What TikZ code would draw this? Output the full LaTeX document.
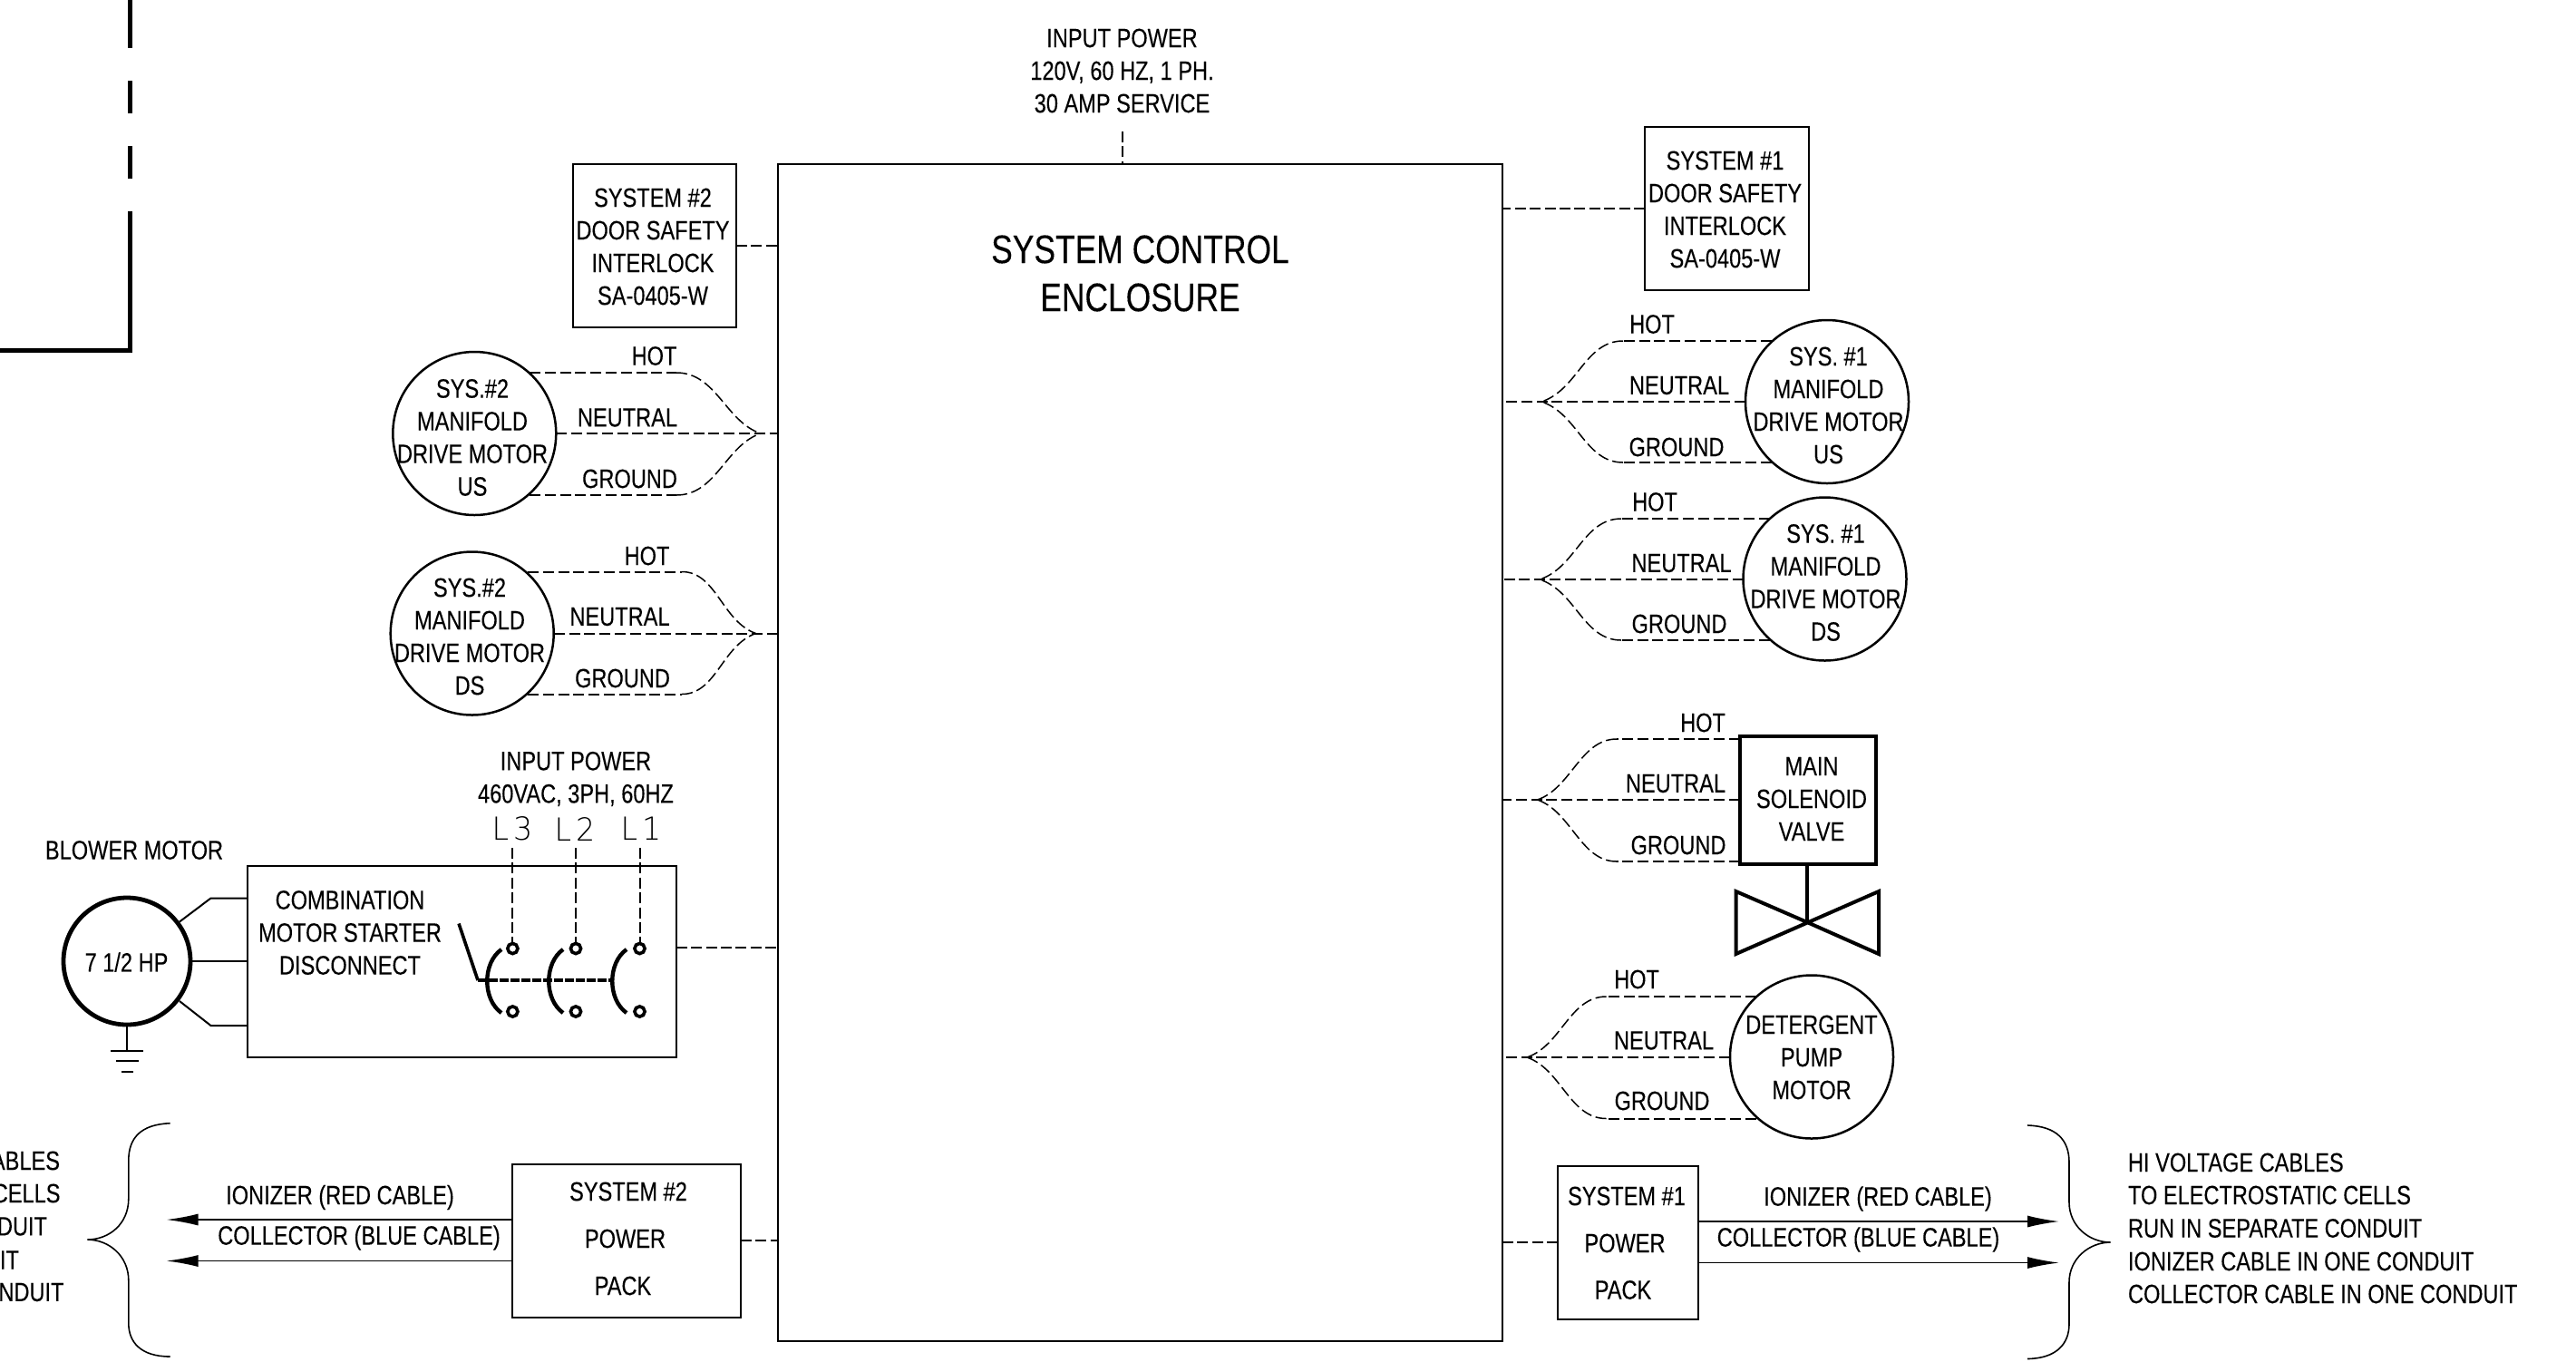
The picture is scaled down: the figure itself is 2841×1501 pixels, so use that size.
\documentclass[tikz,border=0pt]{standalone}
\usepackage{fontspec}
\setmainfont[FakeStretch=0.805,FakeBold=0.15]{Liberation Sans}
\newfontfamily\lfont[LetterSpace=14,FakeStretch=0.95]{DejaVu Sans ExtraLight}
\usetikzlibrary{arrows.meta}
\tikzset{
  txt/.style={inner sep=0pt,outer sep=0pt,align=center,font=\fontsize{14.65}{18}\selectfont},
  txtl/.style={txt,anchor=west,align=left},
  txtr/.style={txt,anchor=east,align=right},
  big/.style={inner sep=0pt,align=center,font=\fontsize{22}{26.5}\selectfont},
  lname/.style={inner sep=0pt,font=\lfont\fontsize{17.5}{18}\selectfont},
  box/.style={draw,rectangle,line width=1pt,inner sep=0pt,outer sep=0pt},
  heavybox/.style={box,line width=2pt},
  motor/.style={draw,circle,line width=1.25pt,inner sep=0pt,outer sep=0pt,minimum size=90pt},
  blower/.style={motor,line width=2.4pt,minimum size=70pt},
  term/.style={draw,circle,line width=1.8pt,inner sep=0pt,outer sep=0pt,minimum size=5.6pt},
  wire/.style={line width=1pt,dash pattern=on 6pt off 2.4pt},
  thinwire/.style={line width=.75pt,dash pattern=on 6pt off 2.4pt},
  feed/.style={line width=1pt,dash pattern=on 6pt off 2.2pt},
  solid1/.style={line width=1pt},
  cable/.style={line width=.9pt,-{Latex[length=17.5pt,width=6.5pt]}},
  brace/.style={line width=.8pt},
  frameline/.style={line width=2.5pt},
  blade/.style={line width=2.2pt},
  valve/.style={line width=2pt,line join=miter}
}
\newcommand{\rectn}[6][box]{\node[#1,minimum width={(#5-#3)*0.5pt},minimum height={(#6-#4)*0.5pt}] (#2) at ({(#3+#5)/2},{(#4+#6)/2}) {};}
\begin{document}
\begin{tikzpicture}[x=0.5pt,y=-0.5pt]
\useasboundingbox (0,0) rectangle (2841,1501);
% top-left frame
\coordinate (fa1) at (143.5,0); \coordinate (fa2) at (143.5,53);
\coordinate (fb1) at (143.5,89); \coordinate (fb2) at (143.5,125);
\coordinate (fc1) at (143.5,161); \coordinate (fc2) at (143.5,197);
\coordinate (fd1) at (143.5,233); \coordinate (fd2) at (143.5,386); \coordinate (fd3) at (0,386);
\draw[frameline] (fa1) -- (fa2);
\draw[frameline] (fb1) -- (fb2);
\draw[frameline] (fc1) -- (fc2);
\draw[frameline,line join=miter] (fd1) -- (fd2) -- (fd3);
% enclosure
\rectn{enc}{858}{181}{1657}{1479}
\node[big] (enclabel) at (1257.5,301.5) {SYSTEM CONTROL\\ENCLOSURE};
% top power
\node[txt] (topin) at (1237.5,78) {INPUT POWER\\120V, 60 HZ, 1 PH.\\30 AMP SERVICE};
\coordinate (topa) at (1237.5,145);
\draw[feed] (topa) -- (topa |- enc.north);
% door interlocks
\rectn{d2}{632}{180.5}{812}{361}
\node[txt] (d2t) at (720,272) {SYSTEM \#2\\DOOR SAFETY\\INTERLOCK\\SA-0405-W};
\draw[feed] (d2.east) -- (d2.east -| enc.west);
\rectn{d1}{1814}{139.5}{1995}{320}
\node[txt] (d1t) at (1902.5,231) {SYSTEM \#1\\DOOR SAFETY\\INTERLOCK\\SA-0405-W};
\draw[feed] (d1.west) -- (d1.west -| enc.east);
% left motors
\node[motor] (m2u) at (523.3,478) {};
\node[txt] (m2ut) at (521,482.5) {SYS.\#2\\MANIFOLD\\DRIVE MOTOR\\US};
\coordinate (m2uh) at (584,411); \coordinate (m2ub) at (746,411);
\coordinate (m2uc) at (790,411); \coordinate (m2ud) at (800,465);
\coordinate (m2uj) at (839,478);
\coordinate (m2ug) at (584,546); \coordinate (m2uf) at (746,546);
\coordinate (m2ue) at (790,546); \coordinate (m2ui) at (800,491);
\draw[wire] (m2uh) -- (m2ub);
\draw[thinwire] (m2ub) .. controls (m2uc) and (m2ud) .. (m2uj);
\draw[wire] (m2ug) -- (m2uf);
\draw[thinwire] (m2uf) .. controls (m2ue) and (m2ui) .. (m2uj);
\draw[wire] (m2u.east) -- (m2u.east -| enc.west);
\node[txt] (m2uH) at (721.5,392.5) {HOT};
\node[txt] (m2uN) at (692,460.5) {NEUTRAL};
\node[txt] (m2uG) at (694.5,528) {GROUND};
\node[motor] (m2d) at (520.7,698.5) {};
\node[txt] (m2dt) at (518,702) {SYS.\#2\\MANIFOLD\\DRIVE MOTOR\\DS};
\coordinate (m2dh) at (582,630.5); \coordinate (m2db) at (752,630.5);
\coordinate (m2dc) at (790,630.5); \coordinate (m2dd) at (796,685);
\coordinate (m2dj) at (833.5,698.5);
\coordinate (m2dg) at (582,765.5); \coordinate (m2df) at (752,765.5);
\coordinate (m2de) at (790,765.5); \coordinate (m2di) at (796,712);
\draw[wire] (m2dh) -- (m2db);
\draw[thinwire] (m2db) .. controls (m2dc) and (m2dd) .. (m2dj);
\draw[wire] (m2dg) -- (m2df);
\draw[thinwire] (m2df) .. controls (m2de) and (m2di) .. (m2dj);
\draw[wire] (m2d.east) -- (m2d.east -| enc.west);
\node[txt] (m2dH) at (713.5,613) {HOT};
\node[txt] (m2dN) at (683.5,680) {NEUTRAL};
\node[txt] (m2dG) at (686.5,748) {GROUND};
% right motors
\node[motor] (m1u) at (2015,443) {};
\node[txt] (m1ut) at (2016.5,447) {SYS. \#1\\MANIFOLD\\DRIVE MOTOR\\US};
\coordinate (m1uh) at (1954,376); \coordinate (m1ub) at (1790,376);
\coordinate (m1uc) at (1748,376); \coordinate (m1ud) at (1740,430);
\coordinate (m1uj) at (1700,443);
\coordinate (m1ug) at (1954,510); \coordinate (m1uf) at (1790,510);
\coordinate (m1ue) at (1748,510); \coordinate (m1ui) at (1740,456);
\draw[wire] (m1uh) -- (m1ub);
\draw[thinwire] (m1ub) .. controls (m1uc) and (m1ud) .. (m1uj);
\draw[wire] (m1ug) -- (m1uf);
\draw[thinwire] (m1uf) .. controls (m1ue) and (m1ui) .. (m1uj);
\draw[wire] (m1u.west) -- (m1u.west -| enc.east);
\node[txt] (m1uH) at (1822,357.5) {HOT};
\node[txt] (m1uN) at (1852,425) {NEUTRAL};
\node[txt] (m1uG) at (1849,493) {GROUND};
\node[motor] (m1d) at (2012.5,638.5) {};
\node[txt] (m1dt) at (2013.5,642.5) {SYS. \#1\\MANIFOLD\\DRIVE MOTOR\\DS};
\coordinate (m1dh) at (1952,572); \coordinate (m1db) at (1788,572);
\coordinate (m1dc) at (1746,572); \coordinate (m1dd) at (1738,626);
\coordinate (m1dj) at (1698,639);
\coordinate (m1dg) at (1952,706); \coordinate (m1df) at (1788,706);
\coordinate (m1de) at (1746,706); \coordinate (m1di) at (1738,652);
\draw[wire] (m1dh) -- (m1db);
\draw[thinwire] (m1db) .. controls (m1dc) and (m1dd) .. (m1dj);
\draw[wire] (m1dg) -- (m1df);
\draw[thinwire] (m1df) .. controls (m1de) and (m1di) .. (m1dj);
\draw[wire] (m1d.west) -- (m1d.west -| enc.east);
\node[txt] (m1dH) at (1825,553.5) {HOT};
\node[txt] (m1dN) at (1854.5,621) {NEUTRAL};
\node[txt] (m1dG) at (1852,688) {GROUND};
% solenoid
\rectn[heavybox]{sol}{1919}{811.5}{2069}{953}
\node[txt] (solt) at (1998,881) {MAIN\\SOLENOID\\VALVE};
\coordinate (sh) at (1919,815); \coordinate (sb) at (1783,815);
\coordinate (sc) at (1743,815); \coordinate (sd) at (1733,869);
\coordinate (sj) at (1695.5,882);
\coordinate (sg) at (1919,950); \coordinate (sf) at (1783,950);
\coordinate (se) at (1743,950); \coordinate (si) at (1733,895);
\draw[wire] (sh) -- (sb);
\draw[thinwire] (sb) .. controls (sc) and (sd) .. (sj);
\draw[wire] (sg) -- (sf);
\draw[thinwire] (sf) .. controls (se) and (si) .. (sj);
\draw[wire] (sol.west) -- (sol.west -| enc.east);
\node[txt] (solH) at (1878,797) {HOT};
\node[txt] (solN) at (1848,864) {NEUTRAL};
\node[txt] (solG) at (1851,932) {GROUND};
% valve symbol
\coordinate (vc) at (1993,1017);
\coordinate (vtl) at (1914.5,983); \coordinate (vbl) at (1914.5,1052);
\coordinate (vtr) at (2072,983); \coordinate (vbr) at (2072,1052);
\draw[valve] (vc) -- (vtl) -- (vbl) -- (vtr) -- (vbr) -- cycle;
\draw[valve] (vc |- sol.south) -- (vc);
% detergent
\node[motor] (dp) at (1998,1165.5) {};
\node[txt] (dpt) at (1998,1166) {DETERGENT\\PUMP\\MOTOR};
\coordinate (ph) at (1937,1099); \coordinate (pb) at (1771.5,1099);
\coordinate (pc) at (1731,1099); \coordinate (pd) at (1722,1153);
\coordinate (pj) at (1684,1166);
\coordinate (pg) at (1937,1233.5); \coordinate (pf) at (1771.5,1233.5);
\coordinate (pe) at (1731,1233.5); \coordinate (pi) at (1722,1179);
\draw[wire] (ph) -- (pb);
\draw[thinwire] (pb) .. controls (pc) and (pd) .. (pj);
\draw[wire] (pg) -- (pf);
\draw[thinwire] (pf) .. controls (pe) and (pi) .. (pj);
\draw[wire] (dp.west) -- (dp.west -| enc.east);
\node[txt] (dpH) at (1805,1080) {HOT};
\node[txt] (dpN) at (1835,1147.5) {NEUTRAL};
\node[txt] (dpG) at (1833,1214) {GROUND};
% combination starter
\rectn{cs}{272.7}{954.7}{745.7}{1166}
\node[txt] (cst) at (386,1028.5) {COMBINATION\\MOTOR STARTER\\DISCONNECT};
\coordinate (csout) at (745.7,1044.5);
\draw[feed] (csout) -- (csout -| enc.west);
\node[txt] (ip) at (635,859) {INPUT POWER\\460VAC, 3PH, 60HZ};
\node[lname] (L3) at (565,914) {L3};
\node[lname] (L2) at (634,914) {L2};
\node[lname] (L1) at (707,914) {L1};
\node[term] (t3) at (565.4,1046) {};
\node[term] (t2) at (635,1046) {};
\node[term] (t1) at (705.5,1046) {};
\node[term] (b3) at (565.4,1115.5) {};
\node[term] (b2) at (635,1115.5) {};
\node[term] (b1) at (705.5,1115.5) {};
\coordinate (l3s) at (565.4,935);
\coordinate (l2s) at (635,935);
\coordinate (l1s) at (705.5,935);
\draw[feed] (l3s) -- (t3.north);
\draw[feed] (l2s) -- (t2.north);
\draw[feed] (l1s) -- (t1.north);
\coordinate (a3s) at (553,1047); \coordinate (a3e) at (553,1117);
\coordinate (a3c) at (532,1062); \coordinate (a3d) at (532,1102);
\coordinate (a2s) at (621,1047); \coordinate (a2e) at (621,1117);
\coordinate (a2c) at (600,1062); \coordinate (a2d) at (600,1102);
\coordinate (a1s) at (691,1047); \coordinate (a1e) at (691,1117);
\coordinate (a1c) at (670,1062); \coordinate (a1d) at (670,1102);
\draw[blade] (a3s) .. controls (a3c) and (a3d) .. (a3e);
\draw[blade] (a2s) .. controls (a2c) and (a2d) .. (a2e);
\draw[blade] (a1s) .. controls (a1c) and (a1d) .. (a1e);
\coordinate (hs) at (506,1018.5); \coordinate (hc) at (527,1081); \coordinate (he) at (677,1081);
\draw[line width=1.8pt] (hs) -- (hc);
\draw[line width=1.9pt,dash pattern=on 5pt off 1pt] (hc) -- (he);
% blower
\node[txt] (blt) at (148,937.5) {BLOWER MOTOR};
\node[blower] (bm) at (140,1060) {};
\node[txt] (bmt) at (139.5,1061) {7 1/2 HP};
\coordinate (la1) at (198,1016.5); \coordinate (la2) at (232.5,990.5); \coordinate (la3) at (272.7,990.5);
\coordinate (lc1) at (198,1104); \coordinate (lc2) at (232.5,1131); \coordinate (lc3) at (272.7,1131);
\draw[solid1] (la1) -- (la2) -- (la3);
\draw[solid1] (bm.east) -- (bm.east -| cs.west);
\draw[solid1] (lc1) -- (lc2) -- (lc3);
\coordinate (g0) at (140,1159);
\draw[solid1] (bm.south) -- (g0);
\coordinate (g1a) at (122,1159); \coordinate (g1b) at (158,1159);
\coordinate (g2a) at (127.5,1170); \coordinate (g2b) at (153,1170);
\coordinate (g3a) at (134,1182); \coordinate (g3b) at (147,1182);
\draw[solid1] (g1a) -- (g1b);
\draw[solid1] (g2a) -- (g2b);
\draw[solid1] (g3a) -- (g3b);
% power pack 2
\rectn{pp2}{565}{1283.5}{817}{1452.5}
\node[txt] (pp2a) at (693,1314) {SYSTEM \#2};
\node[txt] (pp2b) at (689.5,1366) {POWER};
\node[txt] (pp2c) at (687,1418) {PACK};
\draw[feed] (pp2.east) -- (pp2.east -| enc.west);
\coordinate (ion2) at (565,1345); \coordinate (ion2t) at (183.5,1345);
\coordinate (col2) at (565,1390.5); \coordinate (col2t) at (183.5,1390.5);
\draw[cable] (ion2) -- (ion2t);
\draw[cable] (col2) -- (col2t);
\node[txt] (ion2l) at (375,1320.5) {IONIZER (RED CABLE)};
\node[txt] (col2l) at (396,1365) {COLLECTOR (BLUE CABLE)};
% power pack 1
\rectn{pp1}{1718}{1286}{1872.5}{1454.5}
\node[txt] (pp1a) at (1794,1319) {SYSTEM \#1};
\node[txt] (pp1b) at (1792,1371) {POWER};
\node[txt] (pp1c) at (1790,1422.5) {PACK};
\draw[feed] (pp1.west) -- (pp1.west -| enc.east);
\coordinate (ion1) at (1872.5,1347); \coordinate (ion1t) at (2271,1347);
\coordinate (col1) at (1872.5,1392.5); \coordinate (col1t) at (2271,1392.5);
\draw[cable] (ion1) -- (ion1t);
\draw[cable] (col1) -- (col1t);
\node[txt] (ion1l) at (2071,1322) {IONIZER (RED CABLE)};
\node[txt] (col1l) at (2049.5,1367) {COLLECTOR (BLUE CABLE)};
% braces
\draw[brace] (187.7,1238.7) .. controls (155,1240) and (141.8,1255) .. (141.8,1280)
  -- (141.8,1322) .. controls (141.8,1350) and (120,1367) .. (96.4,1367)
  .. controls (120,1367) and (141.8,1385) .. (141.8,1412)
  -- (141.8,1459) .. controls (141.8,1480) and (155,1496) .. (187.7,1496);
\draw[brace] (2236,1241) .. controls (2268,1242) and (2282,1257) .. (2282,1282)
  -- (2282,1326) .. controls (2282,1352) and (2304,1370) .. (2327.5,1370)
  .. controls (2304,1370) and (2282,1388) .. (2282,1414)
  -- (2282,1460) .. controls (2282,1482) and (2268,1498) .. (2236,1498.5);
% brace texts
\node[txtr] (lt1) at (66,1280) {ABLES};
\node[txtr] (lt2) at (66.5,1316) {CELLS};
\node[txtr] (lt3) at (52,1352.5) {DUIT};
\node[txtr] (lt4) at (21,1389.5) {IT};
\node[txtr] (lt5) at (70.5,1425) {NDUIT};
\node[txtl] (rt1) at (2347,1282) {HI VOLTAGE CABLES};
\node[txtl] (rt2) at (2347,1318) {TO ELECTROSTATIC CELLS};
\node[txtl] (rt3) at (2347,1354.5) {RUN IN SEPARATE CONDUIT};
\node[txtl] (rt4) at (2347,1391) {IONIZER CABLE IN ONE CONDUIT};
\node[txtl] (rt5) at (2347,1427) {COLLECTOR CABLE IN ONE CONDUIT};
\end{tikzpicture}
\end{document}
